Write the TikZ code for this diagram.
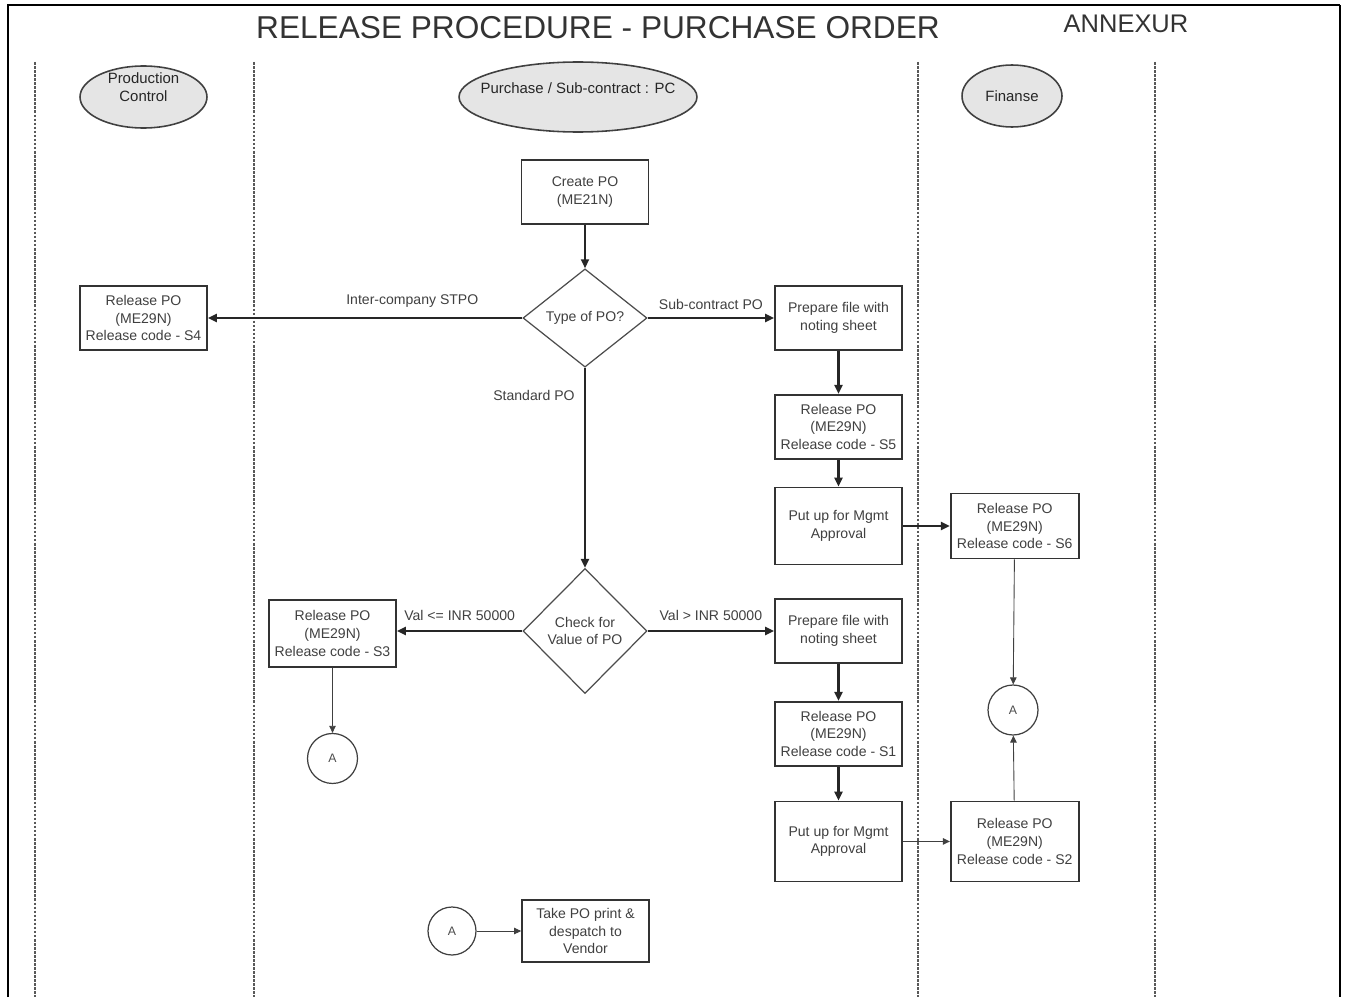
\documentclass[tikz,border=0pt]{standalone}
\usepackage{fontspec}
\setmainfont{Liberation Sans}
\usetikzlibrary{shapes.geometric, arrows.meta, positioning}

\begin{document}
\begin{tikzpicture}[x=0.02cm, y=-0.02cm,
    box/.style={rectangle, draw=black!80, line width=1pt, text=black!75, minimum width=2.54cm, minimum height=1.28cm, inner sep=1pt, align=center, font=\fontsize{8}{10}\selectfont},
    decision/.style={diamond, draw=black!70, line width=0.7pt, text=black!75, minimum width=2.48cm, minimum height=1.92cm, inner sep=1pt, align=center, font=\fontsize{8}{10}\selectfont},
    lanehead/.style={ellipse, draw=black!75, line width=0.9pt, fill=black!10, text=black!85, inner sep=1pt, align=center, font=\fontsize{8.5}{10}\selectfont},
    connector/.style={circle, draw=black!75, line width=0.7pt, minimum size=1cm, inner sep=0pt, text=black!70, font=\fontsize{7}{8}\selectfont},
    arrow/.style={-{Triangle[length=1.8mm, width=1.6mm]}, line width=1.2pt, black!85},
    thinarrow/.style={-{Triangle[length=1.4mm, width=1.3mm]}, line width=0.5pt, black!75},
    edgelabel/.style={font=\fontsize{8}{10}\selectfont, text=black!75},
    lane/.style={black!65, line width=0.7pt, dash pattern=on 1.5pt off 0.8pt}]

    \useasboundingbox (0,0) rectangle (1348,997);

    % Frame and swim lanes
    \draw[line width=1.6pt] (8,997) |- (1340,5);
    \draw[line width=0.8pt] (1340,5) -- (1340,997);
    \foreach \x in {35,254,918,1155}
        \draw[lane] (\x,62) -- (\x,997);

    % Title
    \node[font=\fontsize{18}{20}\selectfont, text=black!80] (title) at (598,28) {RELEASE PROCEDURE - PURCHASE ORDER};
    \node[font=\fontsize{14.5}{16}\selectfont, text=black!80] (annex) at (1126,24) {ANNEXUR};

    % Lane heads
    \node[lanehead, minimum width=2.54cm, minimum height=1.24cm,
        label={[align=center, font=\fontsize{8.5}{10}\selectfont, text=black!85, yshift=0.2cm]center:Production\\Control}] (prodhead) at (143.5,97) {};
    \node[lanehead, minimum width=4.76cm, minimum height=1.4cm,
        label={[font=\fontsize{8.5}{10}\selectfont, text=black!85, yshift=0.18cm]center:Purchase / Sub-contract : PC}] (pchead) at (578,97) {};
    \node[lanehead, minimum width=2cm, minimum height=1.24cm] (finhead) at (1012,96) {Finanse};

    % Production control lane
    \node[box] (relS4) at (143.5,318) {Release PO\\(ME29N)\\Release code - S4};

    % Purchase lane
    \node[box] (create) at (585,192) {Create PO\\(ME21N)};
    \node[decision] (potype) at (585,318) {Type of PO?};
    \node[box] (prepA) at (838.5,318) {Prepare file with\\noting sheet};
    \node[box, below=0.86cm of prepA] (relS5) {Release PO\\(ME29N)\\Release code - S5};
    \node[box, below=0.54cm of relS5, minimum height=1.54cm] (mgmtA) {Put up for Mgmt\\Approval};
    \node[decision, minimum height=2.5cm] (povalue) at (585,631) {Check for\\Value of PO};
    \node[box, minimum height=1.34cm] (relS3) at (332.5,633.5) {Release PO\\(ME29N)\\Release code - S3};
    \node[connector, below=1.3cm of relS3] (conA1) {A};
    \node[box] (prepB) at (838.5,631) {Prepare file with\\noting sheet};
    \node[box, below=0.74cm of prepB] (relS1) {Release PO\\(ME29N)\\Release code - S1};
    \node[box, below=0.68cm of relS1, minimum height=1.6cm] (mgmtB) {Put up for Mgmt\\Approval};
    \node[connector, minimum size=0.96cm] (conA3) at (452,931) {A};
    \node[box, minimum height=1.24cm] (print) at (585.5,931) {Take PO print \&\\despatch to\\Vendor};

    % Finance lane
    \node[box, right=0.94cm of mgmtA, minimum width=2.56cm, minimum height=1.3cm] (relS6) {Release PO\\(ME29N)\\Release code - S6};
    \node[box, right=0.94cm of mgmtB, minimum width=2.56cm, minimum height=1.6cm] (relS2) {Release PO\\(ME29N)\\Release code - S2};
    \node[connector] (conA2) at (1013,710) {A};

    % Flow
    \draw[arrow] (create) -- (potype);
    \draw[arrow] (potype) -- node[edgelabel, above=2pt, pos=0.35] {Inter-company STPO} (relS4);
    \draw[arrow] (potype) -- node[edgelabel, above=1pt] {Sub-contract PO} (prepA);
    \draw[arrow] (potype) -- node[edgelabel, left=2pt, pos=0.14] {Standard PO} (povalue);
    \draw[arrow] (prepA) -- (relS5);
    \draw[arrow] (relS5) -- (mgmtA);
    \draw[arrow] (mgmtA) -- (relS6);
    \draw[thinarrow] (relS6) -- (conA2);
    \draw[thinarrow] (relS2) -- (conA2);
    \draw[arrow] (povalue.west) -- node[edgelabel, above=2pt] {Val <= INR 50000} (povalue.west -| relS3.east);
    \draw[arrow] (povalue) -- node[edgelabel, above=2pt] {Val > INR 50000} (prepB);
    \draw[arrow] (prepB) -- (relS1);
    \draw[arrow] (relS1) -- (mgmtB);
    \draw[thinarrow, line width=0.7pt] (mgmtB) -- (relS2);
    \draw[thinarrow] (relS3) -- (conA1);
    \draw[thinarrow] (conA3) -- (print);

\end{tikzpicture}
\end{document}
